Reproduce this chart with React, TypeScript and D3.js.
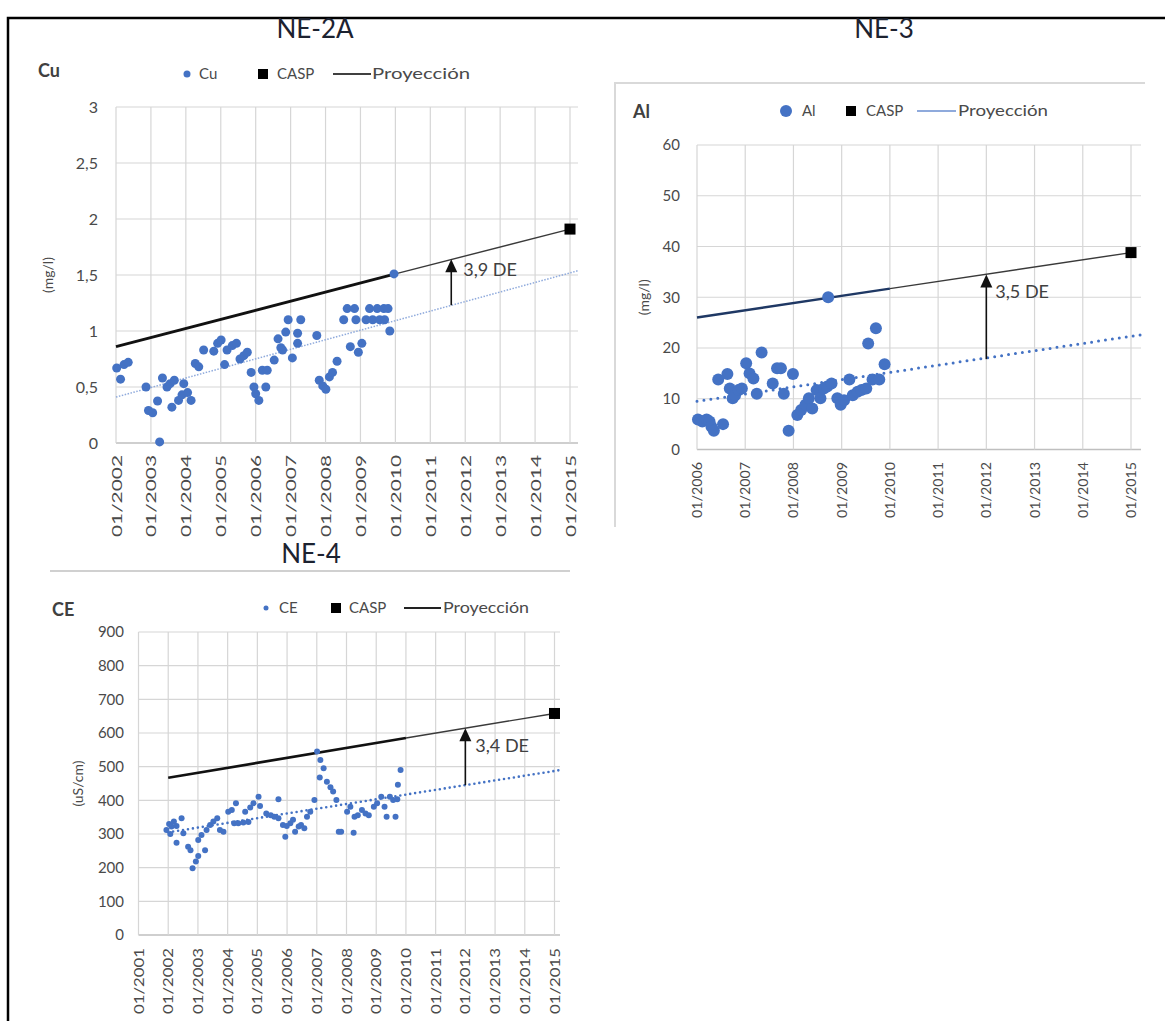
import React from 'react';
import * as d3 from 'd3';

// ---------- DATA ----------
const cuTickYears = [2002, 2003, 2004, 2005, 2006, 2007, 2008, 2009, 2010, 2011, 2012, 2013, 2014, 2015];
const cuTicksY = [0, 0.5, 1, 1.5, 2, 2.5, 3];
const cuYears = [2002.02, 2002.13, 2002.23, 2002.35, 2002.86, 2002.93, 2003.05, 2003.19, 2003.25, 2003.33, 2003.46, 2003.55, 2003.67, 2003.6, 2003.79, 2003.89, 2003.94, 2004.05, 2004.15, 2004.27, 2004.37, 2004.51, 2004.8, 2004.91, 2005.01, 2005.11, 2005.18, 2005.33, 2005.45, 2005.55, 2005.66, 2005.76, 2005.87, 2005.95, 2006.0, 2006.09, 2006.19, 2006.33, 2006.29, 2006.53, 2006.64, 2006.72, 2006.77, 2006.86, 2006.93, 2007.05, 2007.2, 2007.2, 2007.29, 2007.75, 2007.82, 2007.92, 2008.01, 2008.11, 2008.2, 2008.33, 2008.52, 2008.62, 2008.83, 2008.71, 2008.87, 2008.94, 2009.04, 2009.16, 2009.26, 2009.35, 2009.48, 2009.55, 2009.67, 2009.69, 2009.79, 2009.84, 2009.96];
const cuValues = [0.67, 0.57, 0.7, 0.72, 0.5, 0.29, 0.27, 0.375, 0.01, 0.58, 0.5, 0.53, 0.56, 0.32, 0.38, 0.43, 0.53, 0.45, 0.38, 0.71, 0.68, 0.83, 0.82, 0.89, 0.92, 0.7, 0.83, 0.87, 0.89, 0.75, 0.78, 0.81, 0.63, 0.5, 0.44, 0.38, 0.65, 0.65, 0.5, 0.74, 0.93, 0.85, 0.83, 0.99, 1.1, 0.76, 0.98, 0.89, 1.1, 0.96, 0.56, 0.51, 0.48, 0.59, 0.63, 0.73, 1.1, 1.2, 1.2, 0.86, 1.1, 0.81, 0.89, 1.1, 1.2, 1.1, 1.2, 1.1, 1.2, 1.1, 1.2, 1.0, 1.51];
const cuProjYears = [2002, 2010, 2015];
const cuProjValues = [0.86, 1.51, 1.91];
const cuTrendYears = [2002, 2015.25];
const cuTrendValues = [0.41, 1.54];
const cuCasp = [2015, 1.91];
const cuArrow = [2011.6, 1.23, 1.64];

const alTickYears = [2006, 2007, 2008, 2009, 2010, 2011, 2012, 2013, 2014, 2015];
const alTicksY = [0, 10, 20, 30, 40, 50, 60];
const alYears = [2006.02, 2006.11, 2006.2, 2006.26, 2006.3, 2006.35, 2006.44, 2006.54, 2006.63, 2006.68, 2006.74, 2006.79, 2006.86, 2006.93, 2007.02, 2007.09, 2007.17, 2007.24, 2007.34, 2007.57, 2007.66, 2007.74, 2007.8, 2007.9, 2007.99, 2008.08, 2008.16, 2008.25, 2008.32, 2008.39, 2008.48, 2008.56, 2008.63, 2008.7, 2008.79, 2008.72, 2008.91, 2008.98, 2009.05, 2009.16, 2009.23, 2009.33, 2009.41, 2009.51, 2009.55, 2009.64, 2009.71, 2009.78, 2009.89];
const alValues = [5.9, 5.5, 5.9, 5.5, 4.5, 3.7, 13.8, 5.0, 14.9, 12.0, 10.1, 10.7, 11.7, 12.0, 17.0, 15.0, 14.0, 11.0, 19.1, 13.0, 16.0, 16.0, 11.0, 3.7, 14.9, 6.8, 7.8, 8.8, 10.1, 8.1, 11.7, 10.1, 12.0, 12.4, 13.0, 30.0, 10.1, 8.8, 9.7, 13.8, 10.7, 11.4, 11.7, 12.0, 20.9, 13.8, 23.9, 13.8, 16.8];
const alProjYears = [2006, 2010, 2015];
const alProjValues = [26.0, 31.7, 38.8];
const alTrendYears = [2006, 2015.2];
const alTrendValues = [9.5, 22.6];
const alCasp = [2015, 38.8];
const alArrow = [2012, 17.8, 34.5];

const ceTickYears = [2001, 2002, 2003, 2004, 2005, 2006, 2007, 2008, 2009, 2010, 2011, 2012, 2013, 2014, 2015];
const ceTicksY = [0, 100, 200, 300, 400, 500, 600, 700, 800, 900];
const ceYears = [2001.94, 2002.03, 2002.07, 2002.11, 2002.19, 2002.28, 2002.45, 2002.28, 2002.51, 2002.67, 2002.75, 2002.82, 2002.93, 2003.01, 2003.01, 2003.12, 2003.24, 2003.29, 2003.41, 2003.52, 2003.65, 2003.74, 2003.86, 2004.02, 2004.14, 2004.28, 2004.22, 2004.36, 2004.53, 2004.7, 2004.59, 2004.76, 2004.87, 2005.04, 2005.09, 2005.3, 2005.45, 2005.57, 2005.71, 2005.71, 2005.86, 2005.94, 2005.99, 2006.11, 2006.2, 2006.27, 2006.39, 2006.47, 2006.58, 2006.67, 2006.78, 2006.92, 2007.01, 2007.12, 2007.23, 2007.1, 2007.34, 2007.46, 2007.55, 2007.66, 2007.74, 2007.82, 2008.02, 2008.13, 2008.27, 2008.38, 2008.52, 2008.24, 2008.64, 2008.75, 2008.92, 2009.03, 2009.17, 2009.28, 2009.35, 2009.46, 2009.57, 2009.65, 2009.73, 2009.82, 2009.71];
const ceValues = [312, 330, 300, 322, 337, 324, 347, 274, 302, 262, 252, 198, 218, 235, 282, 297, 252, 312, 327, 337, 347, 312, 307, 366, 371, 391, 332, 332, 334, 336, 366, 379, 391, 411, 383, 361, 356, 351, 347, 403, 327, 292, 324, 332, 342, 307, 322, 327, 317, 351, 366, 401, 545, 520, 495, 468, 455, 439, 426, 401, 307, 307, 366, 381, 351, 356, 371, 304, 361, 356, 381, 391, 411, 381, 351, 411, 401, 351, 446, 490, 403];
const ceProjYears = [2002, 2010, 2015];
const ceProjValues = [467, 585, 658];
const ceTrendYears = [2002, 2015.2];
const ceTrendValues = [305, 490];
const ceCasp = [2015, 658];
const ceArrow = [2012, 445, 614];

// ---------- HELPERS ----------
const FONT = 'Lato, "Open Sans", sans-serif';
const BLUE = '#4472C4';
const GRID = '#d6d6d6';
const TXT = '#4a4a4a';
const commaFmt = (v: number) => String(v).replace('.', ',');

type ChartProps = {
  xDom: number[]; xRng: number[]; plotRight: number;
  yDom: number[]; yRng: number[];
  tickYears: number[]; ticksY: number[];
  years: number[]; values: number[]; r: number;
  projYears: number[]; projValues: number[]; projColor: string; projThick: number;
  trendYears: number[]; trendValues: number[]; trendColor: string; trendWidth: number; trendDash: string; trendCap: string;
  casp: number[]; arrow: number[]; arrowText: string; arrowTextDx: number; arrowTextY: number;
  yLabelRight: number; yLabelSize: number;
  xLabelTop: number; xLabelLen: number; xLabelSize: number;
  yTitle: string; yTitleX: number;
  name: string; nameX: number; nameY: number;
  legendY: number; legendDotX: number; legendDotR: number; legendNameX: number;
  legendSqX: number; legendCaspX: number; legendLineX: number[]; legendLineColor: string; legendProyX: number; legendProyLen: number; legendSize: number;
};

function Chart(p: ChartProps) {
  const x = d3.scaleLinear().domain(p.xDom).range(p.xRng);
  const y = d3.scaleLinear().domain(p.yDom).range(p.yRng);
  const plotL = x(p.tickYears[0]);
  const plotT = y(p.ticksY[p.ticksY.length - 1]);
  const plotB = y(0);
  const mk = (ys: number[], vs: number[]) =>
    d3.line<number>().x((d) => x(d)).y((_, i) => y(vs[i]))(ys) || '';
  const ax = x(p.arrow[0]);
  const ay0 = y(p.arrow[1]);
  const ay1 = y(p.arrow[2]);
  return (
    <g fontFamily={FONT}>
      {p.ticksY.map((v) => (
        <line key={'h' + v} x1={plotL} x2={p.plotRight} y1={y(v)} y2={y(v)} stroke={v === 0 ? '#bfbfbf' : GRID} strokeWidth={v === 0 ? 1.5 : 1.2} />
      ))}
      {p.tickYears.map((t) => (
        <line key={'v' + t} x1={x(t)} x2={x(t)} y1={plotT} y2={plotB} stroke={GRID} strokeWidth={1.2} />
      ))}
      {p.ticksY.map((v) => (
        <text key={'yl' + v} x={p.yLabelRight} y={y(v)} dy="0.35em" textAnchor="end" fontSize={p.yLabelSize} fill={TXT}>
          {commaFmt(v)}
        </text>
      ))}
      {p.tickYears.map((t) => (
        <text key={'xl' + t} transform={`translate(${x(t)},${p.xLabelTop}) rotate(-90)`} textAnchor="end" dominantBaseline="central"
          fontSize={p.xLabelSize} fill={TXT} textLength={p.xLabelLen} lengthAdjust="spacingAndGlyphs">
          {'01/' + t}
        </text>
      ))}
      <text transform={`translate(${p.yTitleX},${(plotT + plotB) / 2}) rotate(-90)`} textAnchor="middle" dominantBaseline="central" fontSize={14} fill={TXT}>
        {p.yTitle}
      </text>
      <path d={mk(p.trendYears, p.trendValues)} fill="none" stroke={p.trendColor} strokeWidth={p.trendWidth} strokeDasharray={p.trendDash} strokeLinecap={p.trendCap as any} />
      <path d={mk(p.projYears.slice(1), p.projValues.slice(1))} fill="none" stroke="#3a3a3a" strokeWidth={1.4} />
      <path d={mk(p.projYears.slice(0, 2), p.projValues.slice(0, 2))} fill="none" stroke={p.projColor} strokeWidth={p.projThick} />
      <line x1={ax} x2={ax} y1={ay0} y2={ay1 + 10} stroke="#111" strokeWidth={1.6} />
      <path d={`M${ax},${ay1} L${ax - 6},${ay1 + 13} L${ax + 6},${ay1 + 13} Z`} fill="#111" />
      <text x={ax + p.arrowTextDx} y={p.arrowTextY} fontSize={18} fill="#404040">{p.arrowText}</text>
      {p.years.map((d, i) => (
        <circle key={'p' + i} cx={x(d)} cy={y(p.values[i])} r={p.r} fill={BLUE} />
      ))}
      <rect x={x(p.casp[0]) - 5.5} y={y(p.casp[1]) - 5.5} width={11} height={11} fill="#000" />
      <text x={p.nameX} y={p.nameY} fontSize={18} fontWeight="bold" fill="#404040">{p.name}</text>
      <circle cx={p.legendDotX} cy={p.legendY} r={p.legendDotR} fill={BLUE} />
      <text x={p.legendNameX} y={p.legendY} dy="0.35em" fontSize={p.legendSize} fill={TXT}>{p.name}</text>
      <rect x={p.legendSqX - 5} y={p.legendY - 5} width={10} height={10} fill="#000" />
      <text x={p.legendCaspX} y={p.legendY} dy="0.35em" fontSize={p.legendSize} fill={TXT}>CASP</text>
      <line x1={p.legendLineX[0]} x2={p.legendLineX[1]} y1={p.legendY} y2={p.legendY} stroke={p.legendLineColor} strokeWidth={2} />
      <text x={p.legendProyX} y={p.legendY} dy="0.35em" fontSize={p.legendSize} fill={TXT} textLength={p.legendProyLen} lengthAdjust="spacingAndGlyphs">Proyección</text>
    </g>
  );
}

export default function App() {
  return (
    <svg width={1165} height={1021} style={{ position: 'absolute', left: 0, top: 0, background: '#fff' }}>
      <rect x={0} y={0} width={1165} height={1021} fill="#fff" />
      <path d="M8,1021 V18 H1165" fill="none" stroke="#000" strokeWidth={2.5} />
      <text x={315} y={38} textAnchor="middle" fontFamily={FONT} fontSize={26} fill="#1c2230">NE-2A</text>
      <text x={884} y={38} textAnchor="middle" fontFamily={FONT} fontSize={26} fill="#1c2230">NE-3</text>
      <text x={311} y={563} textAnchor="middle" fontFamily={FONT} fontSize={26} fill="#1c2230">NE-4</text>
      <line x1={50} x2={570} y1={571} y2={571} stroke="#d0d0d0" strokeWidth={2} />
      <path d="M615,527 V83 H1145" fill="none" stroke="#d9d9d9" strokeWidth={2} />

      <Chart
        xDom={[2002, 2015]} xRng={[116, 570]} plotRight={578}
        yDom={[0, 3]} yRng={[443, 107]}
        tickYears={cuTickYears} ticksY={cuTicksY}
        years={cuYears} values={cuValues} r={4.5}
        projYears={cuProjYears} projValues={cuProjValues} projColor="#111" projThick={2.8}
        trendYears={cuTrendYears} trendValues={cuTrendValues} trendColor="#8faadc" trendWidth={1.5} trendDash="1.5,1.5" trendCap="butt"
        casp={cuCasp} arrow={cuArrow} arrowText="3,9 DE" arrowTextDx={12} arrowTextY={276}
        yLabelRight={98} yLabelSize={16}
        xLabelTop={455} xLabelLen={82} xLabelSize={14}
        yTitle="(mg/l)" yTitleX={47}
        name="Cu" nameX={38} nameY={77}
        legendY={74} legendDotX={187} legendDotR={3.5} legendNameX={199}
        legendSqX={263} legendCaspX={277} legendLineX={[333, 371]} legendLineColor="#404040" legendProyX={372} legendProyLen={98} legendSize={15}
      />
      <Chart
        xDom={[2006, 2015]} xRng={[697, 1131]} plotRight={1141}
        yDom={[0, 60]} yRng={[449.5, 145]}
        tickYears={alTickYears} ticksY={alTicksY}
        years={alYears} values={alValues} r={6}
        projYears={alProjYears} projValues={alProjValues} projColor="#1f3864" projThick={2.4}
        trendYears={alTrendYears} trendValues={alTrendValues} trendColor={BLUE} trendWidth={3} trendDash="0,7" trendCap="round"
        casp={alCasp} arrow={alArrow} arrowText="3,5 DE" arrowTextDx={9} arrowTextY={298}
        yLabelRight={680} yLabelSize={15}
        xLabelTop={462} xLabelLen={56} xLabelSize={13}
        yTitle="(mg/l)" yTitleX={643}
        name="Al" nameX={633} nameY={118}
        legendY={111} legendDotX={786} legendDotR={6} legendNameX={802}
        legendSqX={851} legendCaspX={866} legendLineX={[917, 956]} legendLineColor="#8faadc" legendProyX={958} legendProyLen={90} legendSize={15}
      />
      <Chart
        xDom={[2001, 2015]} xRng={[138.5, 554.5]} plotRight={560}
        yDom={[0, 900]} yRng={[935, 632]}
        tickYears={ceTickYears} ticksY={ceTicksY}
        years={ceYears} values={ceValues} r={3}
        projYears={ceProjYears} projValues={ceProjValues} projColor="#111" projThick={2.6}
        trendYears={ceTrendYears} trendValues={ceTrendValues} trendColor={BLUE} trendWidth={2.6} trendDash="0,5" trendCap="round"
        casp={ceCasp} arrow={ceArrow} arrowText="3,4 DE" arrowTextDx={10} arrowTextY={752}
        yLabelRight={124} yLabelSize={15}
        xLabelTop={948} xLabelLen={66} xLabelSize={13}
        yTitle="(uS/cm)" yTitleX={77}
        name="CE" nameX={52} nameY={616}
        legendY={608} legendDotX={266} legendDotR={2.5} legendNameX={279}
        legendSqX={336} legendCaspX={349} legendLineX={[404, 441]} legendLineColor="#222" legendProyX={443} legendProyLen={86} legendSize={15}
      />
    </svg>
  );
}
